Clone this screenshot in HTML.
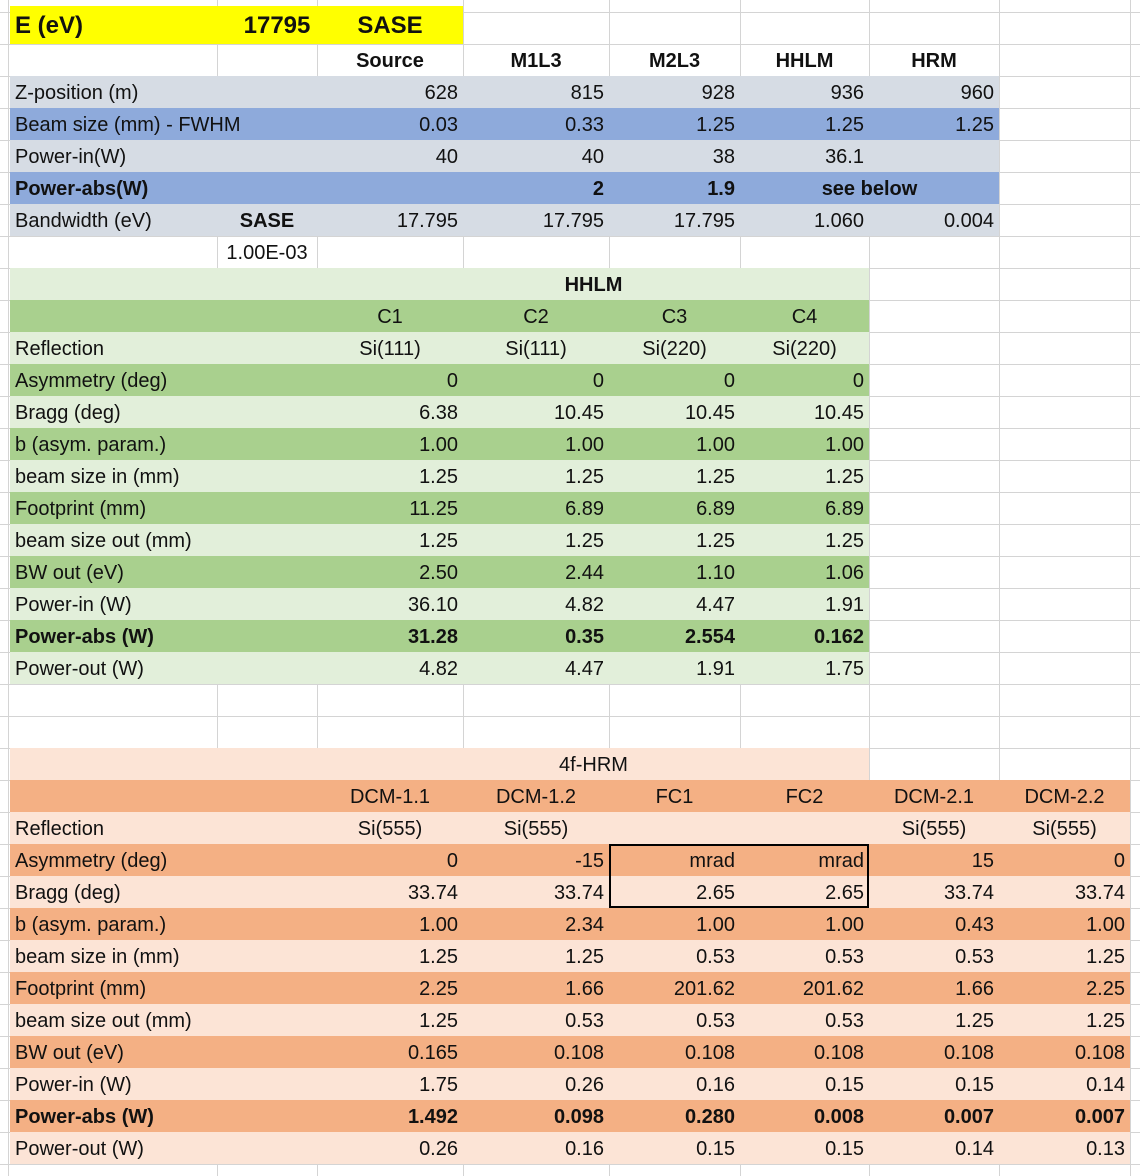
<!DOCTYPE html>
<html><head><meta charset="utf-8"><style>
body{margin:0;width:1140px;height:1176px;background:#fff;overflow:hidden;font-family:"Liberation Sans",sans-serif;}
#sheet{position:absolute;left:0;top:0;width:1140px;height:1176px;}
.c{position:absolute;height:32px;line-height:34px;font-size:20px;color:#111;white-space:nowrap;box-sizing:border-box;}
.vl{position:absolute;width:1px;background:#d4d4d4;}
.hl{position:absolute;height:1px;background:#d4d4d4;}
</style></head><body>
<div id="sheet"></div>
<script>
const X=[10,217,317,463,609,740,869,999,1130];
const rowTop=i=>12+32*i;
const Y='#ffff00',G1='#d6dce4',B1='#8eaadb',L='#e2efda',D='#a9d08e',LO='#fce4d6',DO='#f4b084';
const rows=[
 [Y,3,true,{0:['E (eV)','l'],1:['17795','c'],2:['SASE','c']}],
 [null,0,true,{2:['Source','c'],3:['M1L3','c'],4:['M2L3','c'],5:['HHLM','c'],6:['HRM','c']}],
 [G1,7,false,{0:['Z-position (m)','l'],2:['628'],3:['815'],4:['928'],5:['936'],6:['960']}],
 [B1,7,false,{0:['Beam size (mm) - FWHM','l'],2:['0.03'],3:['0.33'],4:['1.25'],5:['1.25'],6:['1.25']}],
 [G1,7,false,{0:['Power-in(W)','l'],2:['40'],3:['40'],4:['38'],5:['36.1']}],
 [B1,7,true,{0:['Power-abs(W)','l'],3:['2'],4:['1.9'],5:['see below','span']}],
 [G1,7,false,{0:['Bandwidth (eV)','l'],1:['SASE','cb'],2:['17.795'],3:['17.795'],4:['17.795'],5:['1.060'],6:['0.004']}],
 [null,0,false,{1:['1.00E-03','c']}],
 [L,6,true,{3:['HHLM','c']}],
 [D,6,false,{2:['C1','c'],3:['C2','c'],4:['C3','c'],5:['C4','c']}],
 [L,6,false,{0:['Reflection','l'],2:['Si(111)','c'],3:['Si(111)','c'],4:['Si(220)','c'],5:['Si(220)','c']}],
 [D,6,false,{0:['Asymmetry (deg)','l'],2:['0'],3:['0'],4:['0'],5:['0']}],
 [L,6,false,{0:['Bragg (deg)','l'],2:['6.38'],3:['10.45'],4:['10.45'],5:['10.45']}],
 [D,6,false,{0:['b (asym. param.)','l'],2:['1.00'],3:['1.00'],4:['1.00'],5:['1.00']}],
 [L,6,false,{0:['beam size in (mm)','l'],2:['1.25'],3:['1.25'],4:['1.25'],5:['1.25']}],
 [D,6,false,{0:['Footprint (mm)','l'],2:['11.25'],3:['6.89'],4:['6.89'],5:['6.89']}],
 [L,6,false,{0:['beam size out (mm)','l'],2:['1.25'],3:['1.25'],4:['1.25'],5:['1.25']}],
 [D,6,false,{0:['BW out (eV)','l'],2:['2.50'],3:['2.44'],4:['1.10'],5:['1.06']}],
 [L,6,false,{0:['Power-in (W)','l'],2:['36.10'],3:['4.82'],4:['4.47'],5:['1.91']}],
 [D,6,true,{0:['Power-abs (W)','l'],2:['31.28'],3:['0.35'],4:['2.554'],5:['0.162']}],
 [L,6,false,{0:['Power-out (W)','l'],2:['4.82'],3:['4.47'],4:['1.91'],5:['1.75']}],
 [null,0,false,{}],
 [null,0,false,{}],
 [LO,6,false,{3:['4f-HRM','c']}],
 [DO,8,false,{2:['DCM-1.1','c'],3:['DCM-1.2','c'],4:['FC1','c'],5:['FC2','c'],6:['DCM-2.1','c'],7:['DCM-2.2','c']}],
 [LO,8,false,{0:['Reflection','l'],2:['Si(555)','c'],3:['Si(555)','c'],6:['Si(555)','c'],7:['Si(555)','c']}],
 [DO,8,false,{0:['Asymmetry (deg)','l'],2:['0'],3:['-15'],4:['mrad'],5:['mrad'],6:['15'],7:['0']}],
 [LO,8,false,{0:['Bragg (deg)','l'],2:['33.74'],3:['33.74'],4:['2.65'],5:['2.65'],6:['33.74'],7:['33.74']}],
 [DO,8,false,{0:['b (asym. param.)','l'],2:['1.00'],3:['2.34'],4:['1.00'],5:['1.00'],6:['0.43'],7:['1.00']}],
 [LO,8,false,{0:['beam size in (mm)','l'],2:['1.25'],3:['1.25'],4:['0.53'],5:['0.53'],6:['0.53'],7:['1.25']}],
 [DO,8,false,{0:['Footprint (mm)','l'],2:['2.25'],3:['1.66'],4:['201.62'],5:['201.62'],6:['1.66'],7:['2.25']}],
 [LO,8,false,{0:['beam size out (mm)','l'],2:['1.25'],3:['0.53'],4:['0.53'],5:['0.53'],6:['1.25'],7:['1.25']}],
 [DO,8,false,{0:['BW out (eV)','l'],2:['0.165'],3:['0.108'],4:['0.108'],5:['0.108'],6:['0.108'],7:['0.108']}],
 [LO,8,false,{0:['Power-in (W)','l'],2:['1.75'],3:['0.26'],4:['0.16'],5:['0.15'],6:['0.15'],7:['0.14']}],
 [DO,8,true,{0:['Power-abs (W)','l'],2:['1.492'],3:['0.098'],4:['0.280'],5:['0.008'],6:['0.007'],7:['0.007']}],
 [LO,8,false,{0:['Power-out (W)','l'],2:['0.26'],3:['0.16'],4:['0.15'],5:['0.15'],6:['0.14'],7:['0.13']}]
];
const S=document.getElementById('sheet');
for(let i=0;i<=36;i++){const h=document.createElement('div');h.className='hl';h.style.left='0px';h.style.width='1140px';h.style.top=(rowTop(i))+'px';


S.appendChild(h);}
[8,...X.slice(1)].forEach(x=>{const v=document.createElement('div');v.className='vl';v.style.left=x+'px';v.style.top='0px';v.style.height='1176px';


S.appendChild(v);});
rows.forEach((r,i)=>{
 const [bg,end,bold,cells]=r;const top=rowTop(i);
 if(bg){const b=document.createElement('div');b.className='c';b.style.left=X[0]+'px';b.style.top=(i==0?6:top)+'px';b.style.height=(i==0?38:32)+'px';b.style.width=(X[end]-X[0])+'px';b.style.background=bg;
 
 
 S.appendChild(b);}
 Object.keys(cells).forEach(k=>{k=+k;const [t,a]=cells[k];const d=document.createElement('div');d.className='c';d.textContent=t;d.style.top=(i==0?9:top)+'px';
 if(bold||a==='cb')d.style.fontWeight='bold';
 if(i==0)d.style.fontSize='24px';
 if(a==='l'){d.style.left='15px';}
 else if(a==='span'){d.style.left=X[k]+'px';d.style.width=(X[k+2]-X[k])+'px';d.style.textAlign='center';}
 else if(a==='c'||a==='cb'){let w=X[k+1]-X[k],l=X[k];if((i==8||i==23)&&k==3){w=X[5]-X[3]-16;}if(i==0&&k==1){l+=10;}d.style.left=l+'px';d.style.width=w+'px';d.style.textAlign='center';}
 else {d.style.left=X[k]+'px';d.style.width=(X[k+1]-X[k]-5)+'px';d.style.textAlign='right';}
 
 
 S.appendChild(d);});
});
const box=document.createElement('div');box.style.cssText='position:absolute;left:609px;top:'+rowTop(26)+'px;width:260px;height:64px;border:2px solid #000;box-sizing:border-box;';


S.appendChild(box);
</script>
</body></html>
